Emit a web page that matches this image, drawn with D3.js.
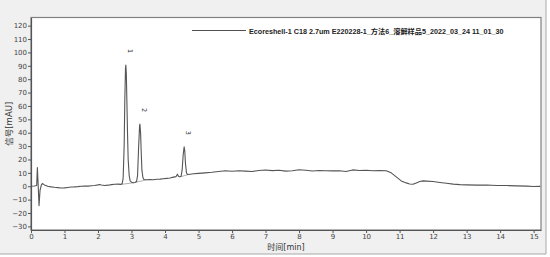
<!DOCTYPE html>
<html>
<head>
<meta charset="utf-8">
<script src="https://cdn.jsdelivr.net/npm/d3@7"></script>
<style>
  html, body { margin: 0; padding: 0; background: #ffffff; }
  svg { display: block; }
</style>
</head>
<body>
<svg id="chart" width="550" height="257"></svg>
<script>
"use strict";
// retention time [min] and detector signal [mAU]
const time = [
  0.00, 0.10, 0.17, 0.19, 0.21, 0.24, 0.27, 0.31, 0.34, 0.40, 0.50, 0.60, 0.70, 0.80, 0.90,
  1.00, 1.10, 1.20, 1.30, 1.40, 1.50, 1.60, 1.70, 1.80, 1.90, 2.00, 2.05, 2.10, 2.20, 2.30,
  2.40, 2.50, 2.60, 2.68, 2.72, 2.75, 2.78, 2.80, 2.82, 2.83, 2.845, 2.86, 2.88, 2.90, 2.93,
  2.96, 3.00, 3.05, 3.10, 3.15, 3.18, 3.21, 3.24, 3.25, 3.27, 3.29, 3.31, 3.34, 3.37, 3.45,
  3.55, 3.65, 3.75, 3.85, 3.95, 4.05, 4.15, 4.25, 4.33, 4.37, 4.40, 4.44, 4.48, 4.51, 4.54,
  4.57, 4.59, 4.61, 4.64, 4.67, 4.75, 4.85, 5.00, 5.20, 5.40, 5.60, 5.80, 6.00, 6.20, 6.40,
  6.60, 6.80, 7.00, 7.20, 7.40, 7.60, 7.80, 8.00, 8.20, 8.40, 8.60, 8.80, 9.00, 9.20, 9.40,
  9.60, 9.80, 10.00, 10.20, 10.40, 10.60, 10.75, 10.90, 11.05, 11.20, 11.30, 11.40, 11.50, 11.60, 11.70,
  11.80, 12.00, 12.20, 12.40, 12.60, 12.80, 13.00, 13.30, 13.60, 13.90, 14.20, 14.50, 14.80, 15.00, 15.20
];
const signal = [
  0.0, 0.2, 0.5, 14.0, 3.0, -14.5, -3.0, 1.0, 2.0, 1.0, 0.0, -0.5, -0.8, -1.0, -1.3,
  -1.2, -0.9, -0.6, -0.5, -0.3, 0.0, 0.2, 0.1, 0.4, 0.6, 1.0, 1.3, 0.9, 0.6, 0.8,
  1.2, 1.5, 1.6, 1.4, 1.8, 6.0, 30.0, 65.0, 88.0, 90.5, 84.0, 65.0, 40.0, 20.0, 8.0,
  4.0, 3.0, 2.6, 2.8, 3.5, 8.0, 28.0, 45.0, 46.5, 40.0, 25.0, 12.0, 6.5, 5.0, 4.8,
  5.0, 4.9, 5.2, 5.3, 5.6, 5.9, 6.2, 6.8, 7.2, 9.0, 7.5, 7.0, 7.5, 12.0, 23.0,
  29.5, 26.0, 17.0, 10.0, 8.8, 9.0, 9.3, 9.6, 10.0, 10.4, 11.0, 11.6, 11.2, 11.6, 11.3,
  11.0, 11.8, 12.1, 11.7, 11.9, 11.3, 11.6, 12.3, 11.9, 11.4, 11.8, 11.6, 11.5, 11.6, 11.0,
  12.2, 11.8, 11.9, 11.6, 11.8, 11.6, 10.0, 7.0, 4.0, 2.5, 1.7, 1.5, 2.5, 3.5, 4.0,
  3.8, 3.5, 2.8, 2.2, 1.6, 1.2, 1.0, 0.8, 0.9, 0.6, 0.5, 0.3, 0.1, -0.2, -0.1
];
// peak annotations
const peakNames = ["1", "2", "3"];
const peakTimes = [2.83, 3.25, 4.57];
const peakHeights = [90.5, 46.5, 29.5];
// integration baselines: [start time, start value, end time, end value]
const peakBaselines = [
  [2.70, 1.4, 3.08, 2.7],
  [3.10, 2.8, 3.45, 4.8],
  [4.46, 7.1, 4.72, 8.9]
];
const xTicks = d3.range(0, 16, 1);
const yTicks = d3.range(-30, 121, 10);
const legendLabel = "Ecoreshell-1 C18 2.7um E220228-1_方法6_溶解样品5_2022_03_24 11_01_30";
const xTitle = "时间[min]";
const yTitle = "信号[mAU]";

class ChromatogramChart {
  constructor(svgElement) {
    this.svg = svgElement;
    this.box = { left: 31, right: 541, top: 17.5, bottom: 230 };
    this.x = d3.scaleLinear().domain([0, 15.22]).range([this.box.left, this.box.right]);
    this.y = d3.scaleLinear().domain([-32.7, 126.1]).range([this.box.bottom, this.box.top]);
    this.drawFrame();
    this.drawAxes();
    this.drawTrace();
    this.drawLegend();
  }
  drawFrame() {
    const svg = this.svg;
    const b = this.box;
    // grey window panel with a thin shadow edge
    svg.append("rect")
      .attr("x", 0).attr("y", 0)
      .attr("width", 546).attr("height", 254)
      .style("fill", "#f0f0f0");
    svg.append("path")
      .attr("d", "M546,0V254H0")
      .style("fill", "none")
      .style("stroke", "#a8a8a8")
      .style("stroke-width", "1");
    svg.append("rect")
      .attr("x", b.left).attr("y", b.top)
      .attr("width", b.right - b.left).attr("height", b.bottom - b.top)
      .style("fill", "#ffffff")
      .style("stroke", "#808080")
      .style("stroke-width", "1.2");
  }
  drawAxes() {
    const svg = this.svg;
    const b = this.box;
    const font = "'DejaVu Sans', 'Noto Sans CJK SC', sans-serif";
    const xAxis = svg.append("g")
      .attr("transform", `translate(0,${b.bottom})`)
      .call(d3.axisBottom(this.x).tickValues(xTicks).tickFormat(d3.format("d")).tickSize(3).tickSizeOuter(0));
    const yAxis = svg.append("g")
      .attr("transform", `translate(${b.left},0)`)
      .call(d3.axisLeft(this.y).tickValues(yTicks).tickFormat(d3.format("d")).tickSize(3).tickSizeOuter(0));
    [xAxis, yAxis].forEach(a => {
      a.select(".domain").style("stroke", "#555555").style("stroke-width", "1.2");
      a.selectAll(".tick line").style("stroke", "#555555");
      a.selectAll(".tick text")
        .style("font-family", font)
        .style("font-size", "7px")
        .style("fill", "#444444");
    });
    xAxis.selectAll(".tick text").attr("y", 4).attr("dy", "0.71em");
    yAxis.selectAll(".tick text").attr("x", -4);
    svg.append("text")
      .attr("x", (b.left + b.right) / 2)
      .attr("y", 249.5)
      .attr("text-anchor", "middle")
      .style("font-family", font)
      .style("font-size", "8px")
      .style("fill", "#333333")
      .text(xTitle);
    svg.append("text")
      .attr("transform", `translate(12,${(b.top + b.bottom) / 2}) rotate(-90)`)
      .attr("text-anchor", "middle")
      .style("font-family", font)
      .style("font-size", "8.5px")
      .style("fill", "#333333")
      .text(yTitle);
  }
  drawTrace() {
    const svg = this.svg;
    const x = this.x;
    const y = this.y;
    const points = time.map((t, i) => ({ t: t, v: signal[i] }));
    const G = svg.append("g");
    G.selectAll("line.base")
      .data(peakBaselines)
      .enter()
      .append("line")
      .attr("class", "base")
      .style("stroke", "#b0b0b0")
      .style("stroke-width", "1")
      .attr("x1", d => x(d[0]))
      .attr("y1", d => y(d[1]))
      .attr("x2", d => x(d[2]))
      .attr("y2", d => y(d[3]));
    G.append("path")
      .datum(points)
      .style("fill", "none")
      .style("stroke", "#555555")
      .style("stroke-width", "1.1")
      .style("stroke-linejoin", "round")
      .attr("d", d3.line().x(p => x(p.t)).y(p => y(p.v)));
    // peak numbers, written sideways above each apex
    G.selectAll("text.peak")
      .data(peakNames)
      .enter()
      .append("text")
      .attr("class", "peak")
      .attr("transform", (n, i) => `translate(${x(peakTimes[i]) + 2},${y(peakHeights[i]) - 14}) rotate(90)`)
      .attr("text-anchor", "middle")
      .style("font-family", "'DejaVu Sans', sans-serif")
      .style("font-size", "6.5px")
      .style("fill", "#333333")
      .text(n => n);
  }
  drawLegend() {
    const svg = this.svg;
    svg.append("line")
      .attr("x1", 192).attr("x2", 246)
      .attr("y1", 30.5).attr("y2", 30.5)
      .style("stroke", "#505050")
      .style("stroke-width", "1.1");
    svg.append("text")
      .attr("x", 249)
      .attr("y", 33.5)
      .style("font-family", "'Liberation Sans', 'Noto Sans CJK SC', sans-serif")
      .style("font-size", "7.2px")
      .style("font-weight", "bold")
      .style("fill", "#222222")
      .text(legendLabel);
  }
}

const chart = new ChromatogramChart(d3.select("#chart"));
</script>
</body>
</html>
